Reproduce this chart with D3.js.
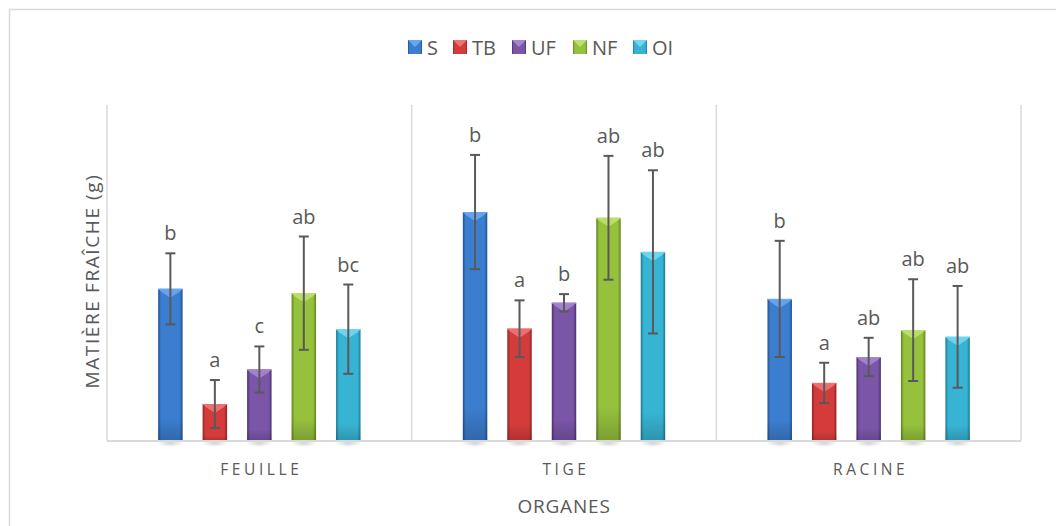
<!DOCTYPE html>
<html><head><meta charset="utf-8">
<script src="https://cdn.jsdelivr.net/npm/d3@7"></script>
<style>
body{margin:0;background:#fff;}
text{font-family:"Open Sans","Liberation Sans",sans-serif;fill:#595959;}
</style></head>
<body><svg id="c" width="1056" height="526"></svg>
<script>
const categories = ["FEUILLE", "TIGE", "RACINE"];
const series = ["S", "TB", "UF", "NF", "OI"];
// mean values per series (one entry per category)
const valS  = [31.7, 47.7, 29.6];
const valTB = [7.7, 23.4, 12.1];
const valUF = [14.9, 28.8, 17.5];
const valNF = [30.8, 46.5, 23.1];
const valOI = [23.3, 39.4, 21.7];
// error (± half-length)
const errS  = [7.4, 11.9, 12.1];
const errTB = [5.0, 5.9, 4.2];
const errUF = [4.8, 1.8, 4.0];
const errNF = [11.8, 12.9, 10.6];
const errOI = [9.3, 17.0, 10.6];
// significance letters
const letS  = ["b", "b", "b"];
const letTB = ["a", "a", "a"];
const letUF = ["c", "b", "ab"];
const letNF = ["ab", "ab", "ab"];
const letOI = ["bc", "ab", "ab"];
const yDomain = [0, 70];
const xTitle = "ORGANES";
const yTitle = "MATIÈRE FRAÎCHE (g)";

const colors = {
  S:  {base:"#3b7ed0", dark:"#21528f", light:"#6aa8ee"},
  TB: {base:"#d43c3c", dark:"#952222", light:"#ec7474"},
  UF: {base:"#7a55a8", dark:"#4b316f", light:"#a585d0"},
  NF: {base:"#95c13d", dark:"#62821f", light:"#bde070"},
  OI: {base:"#37b4d3", dark:"#1c7a92", light:"#74d7ef"}
};

const vals = {S:valS, TB:valTB, UF:valUF, NF:valNF, OI:valOI};
const errs = {S:errS, TB:errTB, UF:errUF, NF:errNF, OI:errOI};
const lets = {S:letS, TB:letTB, UF:letUF, NF:letNF, OI:letOI};

const svg = d3.select("#c");
const L = 107, R = 1021, T = 105, B = 441;

// outer chart border
svg.append("rect").attr("x",9.5).attr("y",9.5).attr("width",1060).attr("height",530)
  .attr("fill","none").attr("stroke","#d9d9d9").attr("stroke-width",1.5);

const x0 = d3.scaleBand().domain(categories).range([L, R]).padding(0);
const x1 = d3.scaleBand().domain(series).range([0, x0.bandwidth()]).paddingInner(0.45).paddingOuter(1.15);
const y = d3.scaleLinear().domain(yDomain).range([B, T]);

// gradients
const defs = svg.append("defs");
series.forEach(s => {
  const c = colors[s];
  const g = defs.append("linearGradient").attr("id","g"+s).attr("x1","0").attr("x2","1").attr("y1","0").attr("y2","0");
  g.append("stop").attr("offset","0").attr("stop-color",c.dark);
  g.append("stop").attr("offset","0.12").attr("stop-color",c.base);
  g.append("stop").attr("offset","0.5").attr("stop-color",c.base);
  g.append("stop").attr("offset","0.88").attr("stop-color",c.base);
  g.append("stop").attr("offset","1").attr("stop-color",c.dark);
  const gv = defs.append("linearGradient").attr("id","v"+s).attr("x1","0").attr("x2","0").attr("y1","0").attr("y2","1");
  gv.append("stop").attr("offset","0").attr("stop-color","#000").attr("stop-opacity",0);
  gv.append("stop").attr("offset","0.85").attr("stop-color","#000").attr("stop-opacity",0);
  gv.append("stop").attr("offset","1").attr("stop-color","#000").attr("stop-opacity",0.18);
});
const shadow = defs.append("radialGradient").attr("id","shd");
shadow.append("stop").attr("offset","0").attr("stop-color","#000").attr("stop-opacity",0.18);
shadow.append("stop").attr("offset","1").attr("stop-color","#000").attr("stop-opacity",0);

// category separators
svg.append("g").selectAll("line").data(d3.range(categories.length+1)).join("line")
  .attr("x1", i => i < categories.length ? x0(categories[i]) : x0(categories[i-1]) + x0.bandwidth())
  .attr("x2", i => i < categories.length ? x0(categories[i]) : x0(categories[i-1]) + x0.bandwidth())
  .attr("y1", T).attr("y2", B)
  .attr("stroke","#d9d9d9").attr("stroke-width",1.5);

// data rows
const rows = [];
categories.forEach((cat, ci) => series.forEach(s => rows.push({cat, s, v: vals[s][ci], e: errs[s][ci], l: lets[s][ci]})));

const bw = x1.bandwidth();
const gBars = svg.append("g");
// shadows under bars
gBars.selectAll("ellipse").data(rows).join("ellipse")
  .attr("cx", d => x0(d.cat) + x1(d.s) + bw/2).attr("cy", B + 2)
  .attr("rx", bw*0.55).attr("ry", 4).attr("fill","url(#shd)");

const bar = gBars.selectAll("g.bar").data(rows).join("g").attr("class","bar");
bar.append("rect")
  .attr("x", d => x0(d.cat) + x1(d.s)).attr("width", bw)
  .attr("y", d => y(d.v)).attr("height", d => y(0) - y(d.v))
  .attr("fill", d => `url(#g${d.s})`);
bar.append("rect")
  .attr("x", d => x0(d.cat) + x1(d.s)).attr("width", bw)
  .attr("y", d => y(d.v)).attr("height", d => y(0) - y(d.v))
  .attr("fill", d => `url(#v${d.s})`);
// top bevel
bar.append("path")
  .attr("d", d => {
    const xl = x0(d.cat) + x1(d.s), yt = y(d.v);
    return `M${xl},${yt} L${xl+bw},${yt} L${xl+bw-3},${yt+3} L${xl+bw/2},${yt+9} L${xl+3},${yt+3} Z`;
  })
  .attr("fill", d => colors[d.s].light).attr("opacity",0.9);
bar.append("line")
  .attr("x1", d => x0(d.cat) + x1(d.s)).attr("x2", d => x0(d.cat) + x1(d.s) + bw)
  .attr("y1", d => y(d.v)+0.5).attr("y2", d => y(d.v)+0.5)
  .attr("stroke", d => colors[d.s].light).attr("stroke-width",1);

// baseline
svg.append("line").attr("x1",L).attr("x2",R).attr("y1",B).attr("y2",B)
  .attr("stroke","#d9d9d9").attr("stroke-width",2);

// error bars
const eb = svg.append("g").attr("stroke","#595959").attr("stroke-width",2);
rows.forEach(d => {
  const cx = x0(d.cat) + x1(d.s) + bw/2;
  const yt = y(d.v + d.e), yb = y(d.v - d.e);
  eb.append("line").attr("x1",cx).attr("x2",cx).attr("y1",yt).attr("y2",yb);
  eb.append("line").attr("x1",cx-5).attr("x2",cx+5).attr("y1",yt).attr("y2",yt);
  eb.append("line").attr("x1",cx-5).attr("x2",cx+5).attr("y1",yb).attr("y2",yb);
});

// letters
svg.append("g").selectAll("text").data(rows).join("text")
  .attr("x", d => x0(d.cat) + x1(d.s) + bw/2)
  .attr("y", d => y(d.v + d.e) - 13)
  .attr("text-anchor","middle").attr("font-size",20)
  .text(d => d.l);

// category labels
svg.append("g").selectAll("text").data(categories).join("text")
  .attr("x", d => x0(d) + x0.bandwidth()/2 + 2).attr("y", 475)
  .attr("text-anchor","middle").attr("font-size",15.5).attr("letter-spacing","3.6px")
  .text(d => d);

// axis titles
svg.append("text").attr("x", (L+R)/2).attr("y", 513).attr("text-anchor","middle")
  .attr("font-size",19).attr("letter-spacing","0.8px").text(xTitle);
svg.append("text").attr("transform",`translate(99,${(T+B)/2+8}) rotate(-90)`)
  .attr("text-anchor","middle").attr("font-size",19).attr("letter-spacing","1.6px").text(yTitle);

// legend
const legX = [408, 453, 512, 573, 633];
const leg = svg.append("g").selectAll("g").data(series).join("g")
  .attr("transform", (d,i) => `translate(${legX[i]},40)`);
leg.append("rect").attr("width",14).attr("height",14).attr("fill", d => `url(#g${d})`);
leg.append("path").attr("d","M0,0 L14,0 L7,7 Z").attr("fill", d => colors[d].light);
leg.append("text").attr("x",19).attr("y",14.5).attr("font-size",20).text(d => d);
</script></body></html>
